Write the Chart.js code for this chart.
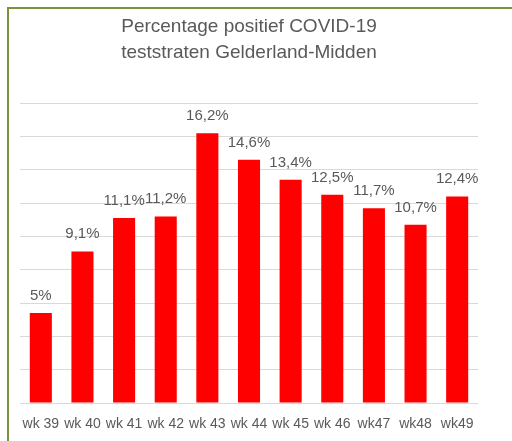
<!DOCTYPE html>
<html>
<head>
<meta charset="utf-8">
<script src="https://cdn.jsdelivr.net/npm/chart.js@4/dist/chart.umd.min.js"></script>
<style>
  html, body { margin: 0; padding: 0; background: #fff; }
  #wrap { position: relative; width: 512px; height: 441px; overflow: hidden; }
  #frame {
    position: absolute; left: 7px; top: 7px; width: 600px; height: 500px;
    border-left: 2px solid #77933c; border-top: 2px solid #77933c;
    pointer-events: none;
  }
  canvas { position: absolute; left: 0; top: 0; }
</style>
</head>
<body>
<div id="wrap">
  <canvas id="chart" width="512" height="441"></canvas>
  <div id="frame"></div>
</div>
<script>
// Weeks on the x axis
const weeks = ['wk 39', 'wk 40', 'wk 41', 'wk 42', 'wk 43', 'wk 44', 'wk 45', 'wk 46', 'wk47', 'wk48', 'wk49'];
// Percentage positive tests (bar heights as drawn)
const positivePct = [5.4, 9.1, 11.1, 11.2, 16.2, 14.6, 13.4, 12.5, 11.7, 10.7, 12.4];
// Labels printed above the bars
const barLabels = ['5%', '9,1%', '11,1%', '11,2%', '16,2%', '14,6%', '13,4%', '12,5%', '11,7%', '10,7%', '12,4%'];

const textGrey = '#595959';

// Draws the value label above each bar
const barLabelPlugin = {
  id: 'barLabels',
  afterDatasetsDraw(chart) {
    const ctx = chart.ctx;
    const meta = chart.getDatasetMeta(0);
    ctx.save();
    ctx.font = '15px "Liberation Sans", Arial, sans-serif';
    ctx.fillStyle = textGrey;
    ctx.textAlign = 'center';
    ctx.textBaseline = 'alphabetic';
    meta.data.forEach((bar, i) => {
      ctx.fillText(barLabels[i], bar.x, bar.y - 13);
    });
    ctx.restore();
  }
};

new Chart(document.getElementById('chart').getContext('2d'), {
  type: 'bar',
  data: {
    labels: weeks,
    datasets: [{
      data: positivePct,
      backgroundColor: '#ff0000',
      borderWidth: 0,
      categoryPercentage: 1,
      barPercentage: 0.53
    }]
  },
  options: {
    responsive: false,
    animation: false,
    layout: { padding: { left: 20, right: 34, top: 0, bottom: 4 } },
    scales: {
      x: {
        grid: { display: false },
        border: { display: false },
        ticks: {
          color: textGrey,
          padding: 6,
          maxRotation: 0,
          autoSkip: false,
          font: { family: '"Liberation Sans", Arial, sans-serif', size: 14, lineHeight: 1 }
        }
      },
      y: {
        min: 0,
        max: 18,
        ticks: { display: false, stepSize: 2 },
        border: { display: false },
        grid: { color: '#d9d9d9', lineWidth: 1, drawTicks: false }
      }
    },
    plugins: {
      legend: { display: false },
      tooltip: { enabled: false },
      title: {
        display: true,
        text: ['Percentage positief COVID-19', 'teststraten Gelderland-Midden'],
        color: textGrey,
        font: { family: '"Liberation Sans", Arial, sans-serif', size: 19, weight: 'normal', lineHeight: 1.4 },
        padding: { top: 13, bottom: 37 }
      }
    }
  },
  plugins: [barLabelPlugin]
});
</script>
</body>
</html>
